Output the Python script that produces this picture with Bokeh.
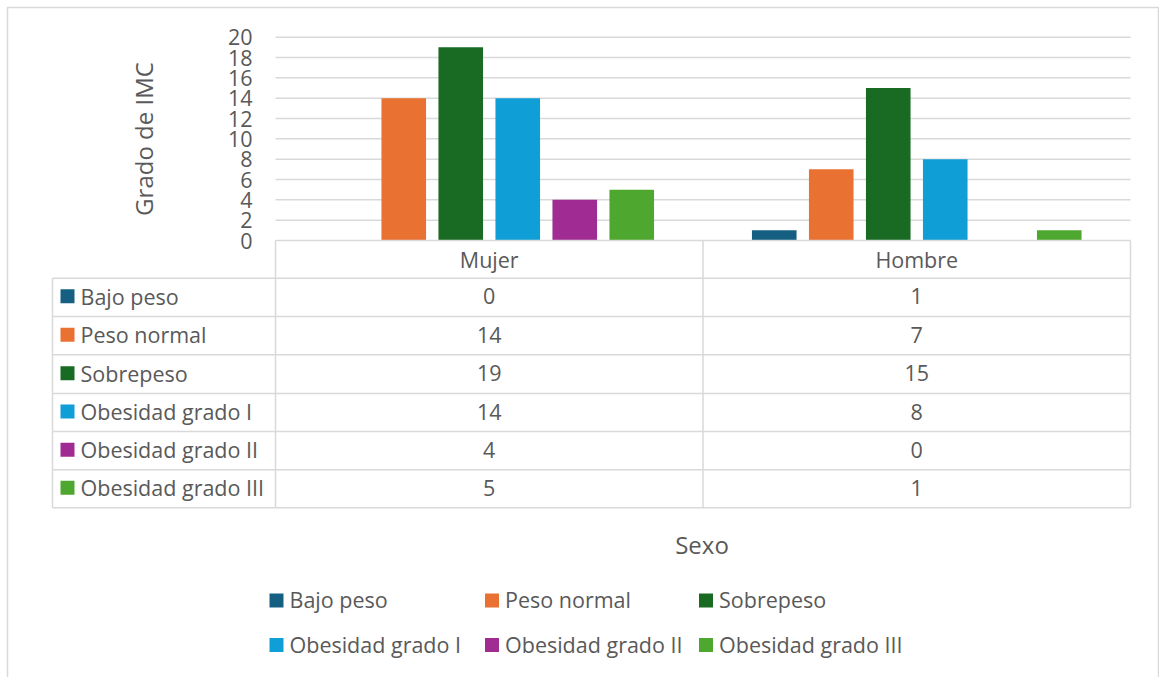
from bokeh.plotting import figure
from bokeh.models import Range1d, ColumnDataSource
from bokeh.core.properties import value
from bokeh.embed import file_html
from bokeh.resources import INLINE

# ---- data ----
categories = ["Mujer", "Hombre"]
series_names = ["Bajo peso", "Peso normal", "Sobrepeso",
                "Obesidad grado I", "Obesidad grado II", "Obesidad grado III"]
bajo_peso = [0, 1]
peso_normal = [14, 7]
sobrepeso = [19, 15]
obesidad_i = [14, 8]
obesidad_ii = [4, 0]
obesidad_iii = [5, 1]
y_ticks = [0, 2, 4, 6, 8, 10, 12, 14, 16, 18, 20]
y_title = "Grado de IMC"
x_title = "Sexo"

series_values = [bajo_peso, peso_normal, sobrepeso, obesidad_i, obesidad_ii, obesidad_iii]
colors = ["#156082", "#E97132", "#196B24", "#0F9ED5", "#A02B93", "#4EA72E"]

# ---- layout geometry (screen pixels) ----
W, H = 1159, 677
PLOT_L, PLOT_R = 275, 1130
PLOT_T, PLOT_B = 36.7, 240
TABLE_L = 52
ROW_EDGES = [277.7, 316, 354.3, 393, 431, 469.3, 507.3]
HEADER_Y = 258.5
FONT = value("Open Sans")
TXT = "#595959"
LINE = "#D9D9D9"
FS = "21.5px"
FS_TITLE = "24px"

Y_MAX = y_ticks[-1]
n_cat = len(categories)
cat_px = (PLOT_R - PLOT_L) / n_cat
px_per_unit = (PLOT_B - PLOT_T) / Y_MAX

x_range = Range1d(-PLOT_L / cat_px, n_cat + (W - PLOT_R) / cat_px)
y_range = Range1d(-(H - PLOT_B) / px_per_unit, Y_MAX + PLOT_T / px_per_unit)

p = figure(width=W, height=H, x_range=x_range, y_range=y_range,
           output_backend="svg", toolbar_location=None,
           x_axis_location=None, y_axis_location=None,
           min_border=0, outline_line_color=None,
           background_fill_color="white", border_fill_color="white")
p.grid.visible = False
p.extra_x_ranges = {"px": Range1d(0, W)}
p.extra_y_ranges = {"px": Range1d(H, 0)}

# chart border
p.quad(left=[7], right=[1158], top=[7], bottom=[H + 20], fill_color=None,
       line_color=LINE, line_width=1.5, x_range_name="px", y_range_name="px")

# horizontal gridlines (value axis)
grid_vals = [t for t in y_ticks if t > 0]
p.segment(x0=[PLOT_L] * len(grid_vals), x1=[PLOT_R] * len(grid_vals),
          y0=grid_vals, y1=grid_vals, line_color=LINE, line_width=1.5,
          x_range_name="px")

# y tick labels
p.text(x=[252] * len(y_ticks), y=y_ticks, text=[str(t) for t in y_ticks],
       text_font=FONT, text_font_size=FS, text_color=TXT,
       text_align="right", text_baseline="middle", x_range_name="px")

# y axis title
p.text(x=[143], y=[138.5], text=[y_title], angle=1.5707963,
       text_font=FONT, text_font_size=FS_TITLE, text_color=TXT,
       text_align="center", text_baseline="middle",
       x_range_name="px", y_range_name="px")

# clustered bars
n_s = len(series_names)
step = 57 / cat_px
bar_w = 44.6 / cat_px
for j, (name, vals, col) in enumerate(zip(series_names, series_values, colors)):
    xs = [i + 0.5 + (j - (n_s - 1) / 2) * step for i in range(n_cat)]
    src = ColumnDataSource(dict(x=xs, top=vals))
    p.vbar(x="x", top="top", bottom=0, width=bar_w, source=src,
           fill_color=col, line_color=None)

# data table lines
p.segment(x0=[PLOT_L], x1=[PLOT_R], y0=[PLOT_B], y1=[PLOT_B],
          line_color=LINE, line_width=1.5, x_range_name="px", y_range_name="px")
p.segment(x0=[TABLE_L] * len(ROW_EDGES), x1=[PLOT_R] * len(ROW_EDGES),
          y0=ROW_EDGES, y1=ROW_EDGES, line_color=LINE, line_width=1.5,
          x_range_name="px", y_range_name="px")
p.segment(x0=[TABLE_L], x1=[TABLE_L], y0=[ROW_EDGES[0]], y1=[ROW_EDGES[-1]],
          line_color=LINE, line_width=1.5, x_range_name="px", y_range_name="px")
col_edges = [PLOT_L + k * cat_px for k in range(n_cat + 1)]
p.segment(x0=col_edges, x1=col_edges, y0=[PLOT_B] * len(col_edges),
          y1=[ROW_EDGES[-1]] * len(col_edges), line_color=LINE, line_width=1.5,
          x_range_name="px", y_range_name="px")

# category header
p.text(x=[i + 0.5 for i in range(n_cat)], y=[HEADER_Y] * n_cat, text=categories,
       text_font=FONT, text_font_size=FS, text_color=TXT,
       text_align="center", text_baseline="middle", y_range_name="px")

# table rows: legend key, name, values
row_centers = [(ROW_EDGES[k] + ROW_EDGES[k + 1]) / 2 - 1 for k in range(n_s)]
p.scatter(x=[67] * n_s, y=row_centers, marker="square", size=14,
          fill_color=colors, line_color=None,
          x_range_name="px", y_range_name="px")
p.text(x=[80] * n_s, y=row_centers, text=series_names,
       text_font=FONT, text_font_size=FS, text_color=TXT,
       text_align="left", text_baseline="middle",
       x_range_name="px", y_range_name="px")
for k, vals in enumerate(series_values):
    p.text(x=[i + 0.5 for i in range(n_cat)], y=[row_centers[k]] * n_cat,
           text=[str(v) for v in vals], text_font=FONT, text_font_size=FS,
           text_color=TXT, text_align="center", text_baseline="middle",
           y_range_name="px")

# x axis title
p.text(x=[701.5], y=[544], text=[x_title], text_font=FONT, text_font_size=FS_TITLE,
       text_color=TXT, text_align="center", text_baseline="middle",
       x_range_name="px", y_range_name="px")

# legend (two rows of three)
leg_cols = [269, 484.5, 698.5]
leg_rows = [600, 644.5]
lx = [leg_cols[j % 3] for j in range(n_s)]
ly = [leg_rows[j // 3] for j in range(n_s)]
p.scatter(x=[x + 7 for x in lx], y=ly, marker="square", size=14,
          fill_color=colors, line_color=None,
          x_range_name="px", y_range_name="px")
p.text(x=[x + 20 for x in lx], y=[y - 1 for y in ly], text=series_names,
       text_font=FONT, text_font_size=FS, text_color=TXT,
       text_align="left", text_baseline="middle",
       x_range_name="px", y_range_name="px")

open("out.html", "w").write(file_html(p, INLINE))
